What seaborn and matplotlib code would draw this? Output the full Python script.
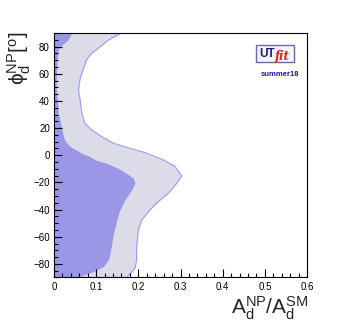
import numpy as np
import pandas as pd
import matplotlib
matplotlib.use("Agg")
import matplotlib.pyplot as plt
from matplotlib.patches import Rectangle
from matplotlib.ticker import MultipleLocator, FuncFormatter
import seaborn as sns

# outer (95%) region: right edge vs phi
phi_outer = [90, 84.9, 78.8, 75.1, 70.2, 64, 56.7, 48, 40.7, 31, 23.6, 18.7, 13.7, 8.8,
             5.2, 1.5, -3.4, -8.3, -15.2, -20.6, -28, -35.3, -41.5, -47.6, -55, -67.3,
             -77, -83.2, -90]
x_outer = [0.160, 0.129, 0.105, 0.089, 0.077, 0.070, 0.062, 0.058, 0.062, 0.066, 0.073,
           0.089, 0.113, 0.141, 0.180, 0.220, 0.259, 0.287, 0.303, 0.291, 0.271, 0.243,
           0.224, 0.208, 0.200, 0.196, 0.196, 0.192, 0.172]

# inner (68%) region: right edge vs phi
phi_inner = [90, 85, 81, 77.6, 70, 60, 50, 40, 31, 26, 20.5, 15.6, 11.3, 7, 5.2, 3.4, 1.5,
             -0.5, -3.4, -5.9, -9.6, -13.3, -16.9, -20.6, -25.5, -32.9, -40.2, -47.6,
             -57.4, -72.1, -77, -82, -85.6, -89.3, -90]
x_inner = [0.042, 0.033, 0.018, 0.010, 0.007, 0.006, 0.005, 0.008, 0.010, 0.014, 0.018,
           0.021, 0.025, 0.036, 0.045, 0.056, 0.065, 0.082, 0.098, 0.125, 0.152, 0.172,
           0.188, 0.192, 0.184, 0.168, 0.156, 0.149, 0.141, 0.133, 0.129, 0.117, 0.093,
           0.062, 0.058]

sns.set_style("white")
plt.rcParams["font.family"] = ["Liberation Sans", "DejaVu Sans"]
plt.rcParams["mathtext.fontset"] = "custom"
plt.rcParams["mathtext.rm"] = "Liberation Sans"
plt.rcParams["mathtext.it"] = "Liberation Sans"
plt.rcParams["mathtext.bf"] = "Liberation Sans:bold"

fig = plt.figure(figsize=(3.41, 3.27), dpi=100)
ax = fig.add_axes([0.1584, 0.1514, 0.7419, 0.7476])

ax.fill_betweenx(phi_outer, 0, x_outer, color="#dcdce8", lw=0)
outer = pd.DataFrame({"x": x_outer, "phi": phi_outer})
sns.lineplot(data=outer, x="x", y="phi", sort=False, orient="y", ax=ax,
             color="#9a9aff", lw=0.8)
ax.fill_betweenx(phi_inner, 0, x_inner, color="#9b97e6", lw=0)

ax.set_xlim(0, 0.6)
ax.set_ylim(-90, 90)
ax.xaxis.set_major_locator(MultipleLocator(0.1))
ax.xaxis.set_minor_locator(MultipleLocator(0.02))
ax.yaxis.set_major_locator(MultipleLocator(20))
ax.yaxis.set_minor_locator(MultipleLocator(5))
ax.xaxis.set_major_formatter(FuncFormatter(lambda v, p: "0" if abs(v) < 1e-9 else f"{v:.1f}"))
ax.tick_params(which="both", direction="in", bottom=True, left=True, top=False,
               right=False, labelsize=7, width=0.8, colors="black")
ax.tick_params(which="major", length=6, pad=3)
ax.tick_params(which="minor", length=3)
ax.set_axisbelow(False)
for s in ax.spines.values():
    s.set_color("black")
    s.set_linewidth(0.8)
ax.set_xlabel("")
ax.set_ylabel("")

fig.text(0.905, 0.015, r"$\mathregular{A_d^{NP}/A_d^{SM}}$", ha="right", va="bottom",
         fontsize=15)
fig.text(0.015, 0.905, r"$\mathregular{\phi_d^{NP}[^o]}$", ha="left", va="top",
         fontsize=15, rotation=90)

# UTfit logo
fig.patches.append(Rectangle((0.751, 0.810), 0.111, 0.052, transform=fig.transFigure,
                             facecolor="#f4f4fb", edgecolor="#6a6aa8", lw=1.0))
fig.text(0.760, 0.836, "UT", color="#1a1a80", fontsize=8.5, fontweight="bold",
         ha="left", va="center")
fig.text(0.806, 0.828, "fit", color="#e02020", fontsize=8.5, fontstyle="italic",
         fontweight="bold", family="DejaVu Serif", ha="left", va="center")
fig.text(0.821, 0.772, "summer18", color="#1a1aa0", fontsize=5.5, fontweight="bold",
         ha="center", va="center")

fig.savefig("out.png", dpi=100)
